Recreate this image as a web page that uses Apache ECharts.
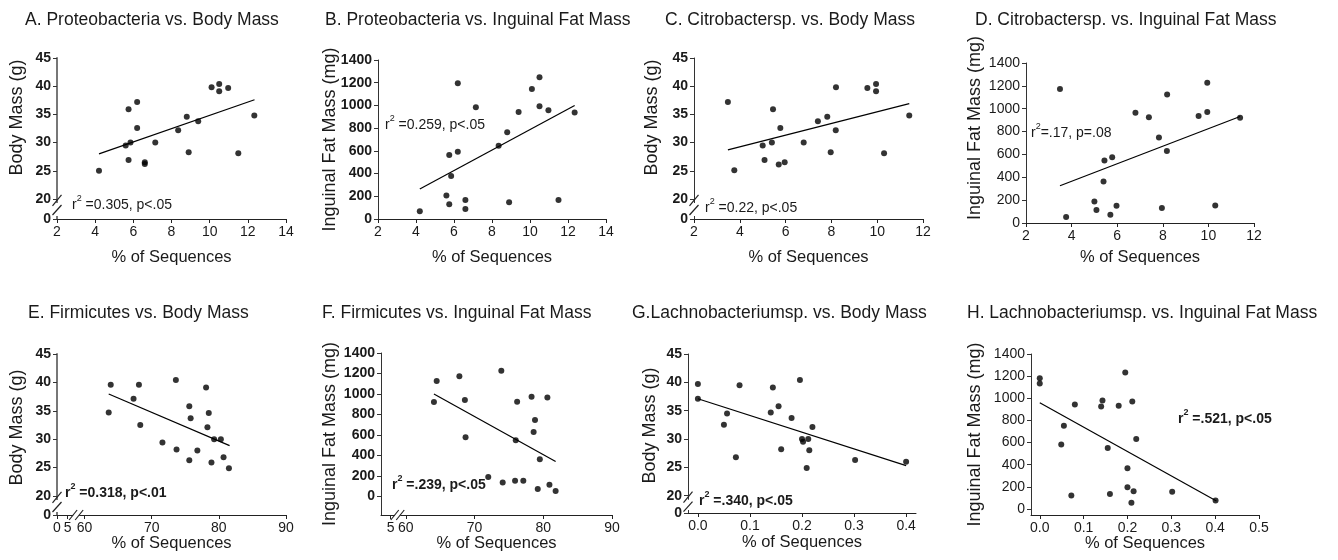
<!DOCTYPE html>
<html><head><meta charset="utf-8">
<script src="https://cdn.jsdelivr.net/npm/echarts@6/dist/echarts.min.js"></script>
<style>html,body{margin:0;padding:0;background:#fff}#c{width:1338px;height:560px}</style>
</head><body><div id="c"></div>
<script>
// ---------------- DATA ----------------
// A. Proteobacteria vs Body Mass
const proteoPctA = [4.2,5.75,5.6,5.85,5.75,6.2,6.2,6.6,6.6,7.15,8.35,8.8,8.9,9.4,10.1,10.5,10.5,10.97,11.5,12.34];
const bodyMassA  = [25.0,35.9,29.5,30.0,26.9,37.2,32.6,26.5,26.2,30.0,32.2,34.6,28.3,33.8,39.8,39.1,40.4,39.7,28.1,34.8];
const fitPctA = [4.2,12.35], fitMassA = [28.0,37.6];
// B. Proteobacteria vs Inguinal Fat Mass
const proteoPctB = [4.2,5.6,5.75,5.75,5.85,6.2,6.2,6.6,6.6,7.15,8.35,8.8,8.9,9.4,10.1,10.5,10.5,10.97,11.5,12.35];
const fatMassB   = [68,206,129,564,379,593,1195,167,88,984,646,764,147,943,1145,1248,993,957,167,937];
const fitPctB = [4.2,12.35], fitFatB = [264,999];
// C. Citrobacter sp. vs Body Mass
const citroPctC = [3.48,3.76,5.0,5.08,5.4,5.45,5.7,5.77,5.96,6.79,7.41,7.82,7.97,8.19,8.2,9.57,9.95,9.95,10.3,11.4];
const bodyMassC = [37.2,25.1,29.5,26.9,30.0,35.9,26.1,32.6,26.5,30.0,33.8,34.6,28.3,32.2,39.8,39.7,40.4,39.1,28.1,34.8];
const fitPctC = [3.48,11.4], fitMassC = [28.7,36.9];
// D. Citrobacter sp. vs Inguinal Fat Mass
const citroPctD = [3.49,3.76,5.0,5.09,5.4,5.44,5.7,5.78,5.97,6.8,7.39,7.83,7.96,8.19,8.18,9.57,9.95,9.95,10.3,11.39];
const fatMassD  = [1173,52,189,114,364,547,73,576,151,964,926,748,131,1124,629,937,1228,972,154,920];
const fitPctD = [3.49,11.39], fitFatD = [326,932];
// E. Firmicutes vs Body Mass
const firmPctE  = [63.6,63.9,67.3,68.1,68.3,71.6,73.6,73.7,75.6,75.8,75.6,76.8,78.1,78.3,78.5,78.9,79.3,80.3,80.7,81.5];
const bodyMassE = [34.7,39.6,37.1,39.6,32.5,29.4,40.4,28.2,35.8,33.7,26.3,28.0,39.1,32.1,34.6,25.9,30.0,30.0,26.8,24.9];
const fitPctE = [63.6,81.6], fitMassE = [37.96,28.86];
// F. Firmicutes vs Inguinal Fat Mass
const firmPctF = [64.1,64.5,67.8,68.6,68.7,72.0,73.9,74.1,75.9,76.0,76.2,77.1,78.3,78.8,78.6,79.2,79.5,80.6,80.9,81.8];
const fatMassF = [922,1127,1173,941,580,192,1228,137,156,550,925,156,974,746,629,75,365,967,117,55];
const fitPctF = [64.1,81.8], fitFatF = [1000,342];
// G. Lachnobacterium sp. vs Body Mass
const lachPctG  = [0,0,0.05,0.056,0.073,0.08,0.14,0.144,0.155,0.16,0.18,0.196,0.2,0.202,0.212,0.209,0.214,0.22,0.302,0.4];
const bodyMassG = [39.7,37.1,32.5,34.5,26.8,39.5,34.7,39.1,35.8,28.2,33.7,40.4,30.0,29.5,30.0,24.9,28.0,32.1,26.3,26.0];
const fitPctG = [0,0.4], fitMassG = [37.1,25.3];
// H. Lachnobacterium sp. vs Inguinal Fat Mass
const lachPctH = [0,0,0.049,0.055,0.072,0.08,0.14,0.143,0.155,0.16,0.18,0.195,0.2,0.2,0.211,0.214,0.209,0.22,0.302,0.401];
const fatMassH = [1180,1134,582,751,121,944,926,980,552,136,932,1234,368,196,971,160,57,633,157,78];
const fitPctH = [0,0.403], fitFatH = [959,72];

// tick labels
const massTicks = [20,25,30,35,40,45];
const fatTicks = [0,200,400,600,800,1000,1200,1400];
const proteoTicks = [2,4,6,8,10,12,14];
const citroTicks = [2,4,6,8,10,12];
const firmTicks = [60,70,80,90];
const lachTicksG = [0,0.1,0.2,0.3,0.4];
const lachTicksH = [0,0.1,0.2,0.3,0.4,0.5];

// titles and annotations
const titles = ['A. Proteobacteria vs. Body Mass','B. Proteobacteria vs. Inguinal Fat Mass','C. Citrobactersp. vs. Body Mass','D. Citrobactersp. vs. Inguinal Fat Mass',
  'E. Firmicutes vs. Body Mass','F. Firmicutes vs. Inguinal Fat Mass','G.Lachnobacteriumsp. vs. Body Mass','H. Lachnobacteriumsp. vs. Inguinal Fat Mass'];
const notes = [' =0.305, p<.05',' =0.259, p<.05',' =0.22, p<.05','=.17, p=.08',' =0.318, p<.01',' =.239, p<.05',' =.340, p<.05',' =.521, p<.05'];
const xName = '% of Sequences';
const yNameMass = 'Body Mass (g)', yNameFat = 'Inguinal Fat Mass (mg)';

// ---------------- LAYOUT / STYLE ----------------
const FONT = '"Liberation Sans", Arial, Helvetica, sans-serif';
const INK = '#1a1a1a';
const panels = [
  {x:proteoPctA,y:bodyMassA,fx:fitPctA,fy:fitMassA,grid:[57,58,229,161],title:[25,11],
   xa:{min:2,max:14,ticks:proteoTicks},ya:{min:16.45,max:45,ticks:massTicks,brk:'0'},yName:yNameMass,yGap:31,yPad:42,xGap:30,yBold:true,
   note:[72,203,false],ybreak:true,yLine:['#777',2]},
  {x:proteoPctB,y:fatMassB,fx:fitPctB,fy:fitFatB,grid:[378,60,228,159],title:[325,11],
   xa:{min:2,max:14,ticks:proteoTicks},ya:{min:0,max:1400,ticks:fatTicks},yName:yNameFat,yGap:39,yPad:0,xGap:30,yBold:true,
   note:[385,123,false]},
  {x:citroPctC,y:bodyMassC,fx:fitPctC,fy:fitMassC,grid:[694,58,229,161],title:[665,11],
   xa:{min:2,max:12,ticks:citroTicks},ya:{min:16.45,max:45,ticks:massTicks,brk:'0'},yName:yNameMass,yGap:33,yPad:42,xGap:30,yBold:true,
   note:[705,206,false],ybreak:true},
  {x:citroPctD,y:fatMassD,fx:fitPctD,fy:fitFatD,grid:[1026,63,228,160],title:[975,11],
   xa:{min:2,max:12,ticks:citroTicks},ya:{min:0,max:1400,ticks:fatTicks},yName:yNameFat,yGap:42,yPad:30,xGap:26,yBold:false,
   note:[1031,131,false]},
  {x:firmPctE,y:bodyMassE,fx:fitPctE,fy:fitMassE,grid:[57,354,229,161],title:[28,304],
   xa:{min:55.9,max:90,ticks:firmTicks,pre:[[55.9,'0'],[57.5,'5']]},ya:{min:16.65,max:45,ticks:massTicks,brk:'0'},yName:yNameMass,yGap:31,yPad:14,xGap:20,yBold:true,
   note:[65,491,true],ybreak:true,xbreak:[58.3,59.2],yLine:['#777',2]},
  {x:firmPctF,y:fatMassF,fx:fitPctF,fy:fitFatF,grid:[381,353,231,162],title:[322,304],
   xa:{min:56.4,max:90,ticks:firmTicks,pre:[[57.8,'5']]},ya:{min:-179,max:1400,ticks:fatTicks},yName:yNameFat,yGap:42,yPad:0,xGap:20,yBold:true,
   note:[392,483,true],xbreak:[58.4,59.2]},
  {x:lachPctG,y:bodyMassG,fx:fitPctG,fy:fitMassG,grid:[688,354,228,159],title:[632,304],
   xa:{min:-0.019,max:0.419,ticks:lachTicksG,dec:1},ya:{min:16.95,max:45,ticks:massTicks,brk:'0'},yName:yNameMass,yGap:29,yPad:16,xGap:21,yBold:true,
   note:[699,499,true],ybreak:true},
  {x:lachPctH,y:fatMassH,fx:fitPctH,fy:fitFatH,grid:[1031,354,228,161],title:[967,304],
   xa:{min:-0.02,max:0.5,ticks:lachTicksH,dec:1},ya:{min:-54,max:1400,ticks:fatTicks},yName:yNameFat,yGap:47,yPad:0,xGap:20,yBold:false,
   note:[1178,417,true]}
];

const near = (a,b) => Math.abs(a-b) < 1e-6;

const option = {
  animation:false,
  backgroundColor:'#fff',
  textStyle:{fontFamily:FONT},
  title:[], grid:[], xAxis:[], yAxis:[], series:[]
};

panels.forEach((p,i)=>{
  option.title.push({text:titles[i],left:p.title[0],top:p.title[1],padding:0,
    textStyle:{fontFamily:FONT,fontSize:17.5,fontWeight:'normal',color:INK}});
  option.grid.push({left:p.grid[0],top:p.grid[1],width:p.grid[2],height:p.grid[3],containLabel:false,outerBoundsMode:'none'});
  const xpre = p.xa.pre || [];
  const xvals = xpre.map(d=>d[0]).concat(p.xa.ticks);
  option.xAxis.push({type:'value',gridIndex:i,min:p.xa.min,max:p.xa.max,
    name:xName,nameLocation:'middle',nameGap:p.xGap,nameMoveOverlap:false,
    nameTextStyle:{fontFamily:FONT,fontSize:16.5,color:INK},
    axisLine:{show:true,onZero:false,lineStyle:{color:'#222',width:1}},
    axisTick:{show:true,inside:false,length:4,customValues:xvals,lineStyle:{color:'#222'}},
    axisLabel:{customValues:xvals,margin:6,fontFamily:FONT,fontSize:14,color:INK,
      formatter:(v)=>{for(const d of xpre){if(near(v,d[0]))return d[1];} return p.xa.dec?(+v).toFixed(p.xa.dec):String(v);}},
    splitLine:{show:false}});
  const yvals = p.ya.brk ? [p.ya.min].concat(p.ya.ticks) : p.ya.ticks;
  const yl = p.yLine || ['#333',1];
  option.yAxis.push({type:'value',gridIndex:i,min:p.ya.min,max:p.ya.max,
    name:p.yName,nameLocation:'middle',nameGap:p.yGap,nameMoveOverlap:false,
    nameTextStyle:{fontFamily:FONT,fontSize:18,color:INK,padding:[0,0,0,p.yPad]},
    axisLine:{show:true,onZero:false,lineStyle:{color:yl[0],width:yl[1]}},
    axisTick:{show:true,inside:false,length:4,customValues:yvals,lineStyle:{color:'#333'}},
    axisLabel:{customValues:yvals,margin:6,fontFamily:FONT,fontSize:14,color:INK,fontWeight:p.yBold?'bold':'normal',
      formatter:(v)=> (p.ya.brk && near(v,p.ya.min)) ? p.ya.brk : String(v)},
    splitLine:{show:false}});
  option.series.push({type:'scatter',xAxisIndex:i,yAxisIndex:i,symbol:'circle',symbolSize:6,
    itemStyle:{color:'#000'},data:p.x.map((v,k)=>[v,p.y[k]]),z:3});
  option.series.push({type:'line',xAxisIndex:i,yAxisIndex:i,symbol:'none',
    lineStyle:{color:'#000',width:1.2},data:p.fx.map((v,k)=>[v,p.fy[k]]),z:2});
});

const chart = echarts.init(document.getElementById('c'),null,{renderer:'canvas'});
chart.setOption(option);

// break marks and annotations
const graphics = [];
panels.forEach((p,i)=>{
  if(p.ybreak){
    const a = chart.convertToPixel({gridIndex:i},[p.xa.min,20]);
    const b = chart.convertToPixel({gridIndex:i},[p.xa.min,p.ya.min]);
    const ax=a[0], y20=a[1];
    graphics.push({type:'rect',shape:{x:ax-3,y:y20+4,width:6,height:Math.max(2,(b[1]-3)-(y20+4))},style:{fill:'#fff'},z:100});
    graphics.push({type:'line',shape:{x1:ax-4.5,y1:y20+7,x2:ax+4.5,y2:y20-4},style:{stroke:'#222',lineWidth:1.2},z:101});
    graphics.push({type:'line',shape:{x1:ax-4.5,y1:y20+16,x2:ax+4.5,y2:y20+6},style:{stroke:'#222',lineWidth:1.2},z:101});
  }
  if(p.xbreak){
    const c1 = chart.convertToPixel({gridIndex:i},[p.xbreak[0],p.ya.min]);
    const c2 = chart.convertToPixel({gridIndex:i},[p.xbreak[1],p.ya.min]);
    graphics.push({type:'rect',shape:{x:c1[0],y:c1[1]-2,width:c2[0]-c1[0],height:4},style:{fill:'#fff'},z:100});
    [c1,c2].forEach(c=>graphics.push({type:'line',shape:{x1:c[0]-4,y1:c[1]+5,x2:c[0]+4,y2:c[1]-5},style:{stroke:'#222',lineWidth:1.2},z:101}));
  }
  const bold = p.note[2]?'bold':'normal';
  graphics.push({type:'text',x:p.note[0],y:p.note[1],z:102,
    style:{text:'{n|r}{s|2}{n|'+notes[i]+'}',align:'left',verticalAlign:'middle',
      rich:{n:{fontFamily:FONT,fontSize:14,fontWeight:bold,fill:INK,color:INK,lineHeight:18,verticalAlign:'bottom'},
            s:{fontFamily:FONT,fontSize:9,fontWeight:bold,fill:INK,color:INK,lineHeight:18,verticalAlign:'top'}}}});
});
chart.setOption({graphic:graphics});
</script></body></html>
